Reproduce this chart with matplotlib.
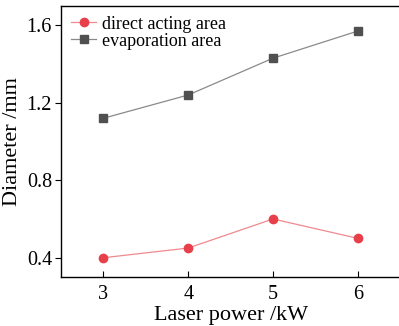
import matplotlib.pyplot as plt

# 데이터
power = [3, 4, 5, 6]
direct_acting = [0.40, 0.45, 0.60, 0.50]
evaporation = [1.12, 1.24, 1.43, 1.57]
y_ticks = [0.4, 0.8, 1.2, 1.6]

plt.rcParams['font.family'] = ['Liberation Serif']

fig = plt.figure(figsize=(3.99, 3.26), dpi=100)
ax = fig.add_axes([0.153, 0.150, 0.850, 0.832])

ax.plot(power, direct_acting, color='#f08a8e', lw=0.9, marker='o', ms=6,
        mfc='#e8404a', mec='#e8404a', label='direct acting area')
ax.plot(power, evaporation, color='#8a8a8a', lw=0.9, marker='s', ms=5.5,
        mfc='#505050', mec='#505050', label='evaporation area')

ax.set_xlim(2.5, 6.5)
ax.set_ylim(0.3, 1.7)
ax.set_xticks(power)
ax.set_yticks(y_ticks)
ax.set_yticklabels([f"{v:.1f}" for v in y_ticks])
ax.tick_params(axis='x', direction='in', length=4, labelsize=14.5, pad=6)
ax.tick_params(axis='y', direction='out', length=4, labelsize=14.5, pad=2.5)
ax.spines['right'].set_visible(False)
for s in ['left', 'bottom', 'top']:
    ax.spines[s].set_linewidth(1.0)

ax.set_xlabel('Laser power /kW', fontsize=16, labelpad=1)
ax.set_ylabel('Diameter /mm', fontsize=16, labelpad=3)

ax.legend(loc='upper left', frameon=False, fontsize=13, handlelength=1.4,
          handletextpad=0.3, labelspacing=0.0, borderaxespad=0.2,
          borderpad=0.35)

plt.savefig('out.png', dpi=100)
plt.close()
